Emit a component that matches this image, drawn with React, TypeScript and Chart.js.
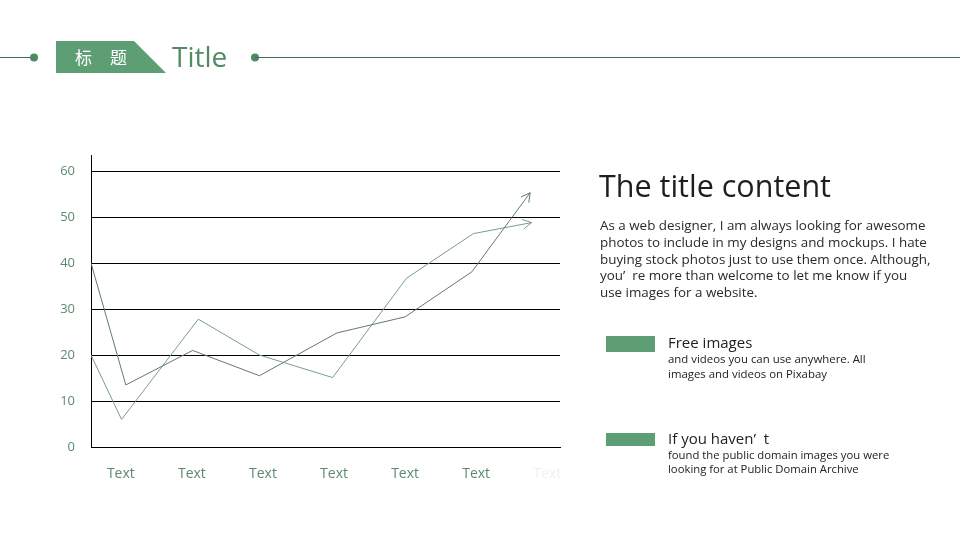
import React, { useEffect, useRef } from "react";
import { Chart, registerables } from "chart.js";

Chart.register(...registerables);

// ---- data ----
const xLabels = ["Text", "Text", "Text", "Text", "Text", "Text", "Text"];
const xTickValues = [0, 1, 2, 3, 4, 5, 6];
const xDark = [-0.42, 0.07, 1.01, 1.95, 3.04, 4.0, 4.94, 5.76];
const seriesDark = [40, 13.5, 21, 15.5, 24.8, 28.3, 38.1, 55.3];
const xLight = [-0.42, 0.01, 1.09, 1.95, 2.98, 4.02, 4.96, 5.78];
const seriesLight = [20, 6, 27.8, 20, 15.1, 36.7, 46.4, 48.8];
const yTickValues = [0, 10, 20, 30, 40, 50, 60];

const GREEN = "#5e9e74";
const TEXT_GREEN = "#5b8a6d";
const FONT = "'Open Sans', 'Noto Sans', sans-serif";

const arrowPlugin = {
  id: "arrowHeads",
  afterDatasetsDraw(chart: any) {
    const ctx = chart.ctx;
    chart.data.datasets.forEach((ds: any, i: number) => {
      const pts = chart.getDatasetMeta(i).data;
      const n = pts.length;
      if (n < 2) return;
      const a = pts[n - 2];
      const b = pts[n - 1];
      const ang = Math.atan2(b.y - a.y, b.x - a.x);
      const L = 10;
      const spread = 0.5;
      ctx.save();
      ctx.strokeStyle = ds.borderColor;
      ctx.lineWidth = 1;
      ctx.beginPath();
      ctx.moveTo(b.x - L * Math.cos(ang - spread), b.y - L * Math.sin(ang - spread));
      ctx.lineTo(b.x, b.y);
      ctx.lineTo(b.x - L * Math.cos(ang + spread), b.y - L * Math.sin(ang + spread));
      ctx.stroke();
      ctx.restore();
    });
  },
};

function ChartCanvas() {
  const ref = useRef<HTMLCanvasElement>(null);
  useEffect(() => {
    if (!ref.current) return;
    const chart = new Chart(ref.current, {
      type: "line",
      data: {
        datasets: [
          {
            label: "A",
            data: xDark.map((x, i) => ({ x, y: seriesDark[i] })),
            borderColor: "#617a6c",
            borderWidth: 1,
            pointRadius: 0,
            tension: 0,
            fill: false,
          },
          {
            label: "B",
            data: xLight.map((x, i) => ({ x, y: seriesLight[i] })),
            borderColor: "#7a9d88",
            borderWidth: 1,
            pointRadius: 0,
            tension: 0,
            fill: false,
          },
        ],
      },
      options: {
        animation: false,
        responsive: false,
        events: [],
        layout: { padding: { left: 30, top: 155, right: 400, bottom: 53 } },
        plugins: { legend: { display: false }, tooltip: { enabled: false } },
        scales: {
          x: {
            type: "linear",
            min: -0.42,
            max: 6.18,
            afterBuildTicks: (scale: any) => {
              scale.ticks = xTickValues.map((v) => ({ value: v }));
            },
            afterFit: (scale: any) => {
              scale.height = 40;
            },
            grid: { display: false, drawTicks: false },
            border: { display: true, color: "#000000", width: 1 },
            ticks: {
              padding: 19,
              autoSkip: false,
              maxRotation: 0,
              font: { family: FONT, size: 14 },
              color: (c: any) => (c.index === 6 ? "#eef2ef" : TEXT_GREEN),
              callback: (v: any) => xLabels[Math.round(Number(v))] ?? "",
            },
          },
          y: {
            type: "linear",
            min: 0,
            max: 63.5,
            afterBuildTicks: (scale: any) => {
              scale.ticks = yTickValues.map((v) => ({ value: v }));
            },
            afterFit: (scale: any) => {
              scale.width = 61;
            },
            grid: { display: true, color: "#000000", lineWidth: 1, drawTicks: false },
            border: { display: true, color: "#000000", width: 1 },
            ticks: {
              padding: 16,
              font: { family: FONT, size: 13 },
              color: TEXT_GREEN,
              callback: (v: any) => String(v),
            },
          },
        },
      },
      plugins: [arrowPlugin],
    } as any);
    return () => chart.destroy();
  }, []);
  return (
    <canvas
      ref={ref}
      width={960}
      height={540}
      style={{ position: "absolute", left: 0, top: 0, width: 960, height: 540 }}
    />
  );
}

const paragraph = [
  "As a web designer, I am always looking for awesome",
  "photos to include in my designs and mockups. I hate",
  "buying stock photos just to use them once. Although,",
  "you\u2019  re more than welcome to let me know if you",
  "use images for a website.",
];

export default function App() {
  return (
    <div
      style={{
        position: "fixed",
        left: 0,
        top: 0,
        width: 960,
        height: 540,
        background: "#ffffff",
        overflow: "hidden",
        fontFamily: FONT,
      }}
    >
      <svg width={960} height={540} style={{ position: "absolute", left: 0, top: 0 }}>
        <line x1={0} y1={57.5} x2={34} y2={57.5} stroke="#3f6f52" strokeWidth={1} />
        <circle cx={34} cy={57.5} r={4} fill="#4e8a63" />
        <polygon points="56,41 134,41 166,73 56,73" fill={GREEN} />
        <circle cx={255} cy={57.5} r={4} fill="#4e8a63" />
        <line x1={255} y1={57.5} x2={960} y2={57.5} stroke="#3f6f52" strokeWidth={1} />
        <rect x={606} y={336} width={49} height={16} fill={GREEN} />
        <rect x={606} y={433} width={49} height={13} fill={GREEN} />
      </svg>
      <ChartCanvas />
      <div
        style={{
          position: "absolute",
          left: 75,
          top: 46,
          fontFamily: "'Noto Sans CJK SC', sans-serif",
          fontSize: 17,
          lineHeight: "22px",
          color: "#ffffff",
        }}
      >
        <span style={{ position: "absolute", left: 0, top: 0 }}>标</span>
        <span style={{ position: "absolute", left: 35, top: 0 }}>题</span>
      </div>
      <div
        style={{
          position: "absolute",
          left: 172,
          top: 37,
          fontSize: 28,
          lineHeight: "38px",
          color: "#4f8c63",
        }}
      >
        Title
      </div>
      <div
        style={{
          position: "absolute",
          left: 599,
          top: 164,
          fontSize: 30.5,
          lineHeight: "42px",
          color: "#1e1e1e",
        }}
      >
        The title content
      </div>
      <div
        style={{
          position: "absolute",
          left: 600,
          top: 217,
          fontSize: 13.4,
          lineHeight: "16.8px",
          color: "#2a2a2a",
          whiteSpace: "pre",
        }}
      >
        {paragraph.map((l, i) => (
          <div key={i}>{l}</div>
        ))}
      </div>
      <div style={{ position: "absolute", left: 668, top: 332, fontSize: 15, lineHeight: "20px", color: "#222" }}>
        Free images
      </div>
      <div
        style={{
          position: "absolute",
          left: 668,
          top: 351,
          fontSize: 11.4,
          lineHeight: "15px",
          color: "#222",
          whiteSpace: "pre",
        }}
      >
        <div>and videos you can use anywhere. All</div>
        <div>images and videos on Pixabay</div>
      </div>
      <div
        style={{
          position: "absolute",
          left: 668,
          top: 428,
          fontSize: 15,
          lineHeight: "20px",
          color: "#222",
          whiteSpace: "pre",
        }}
      >
        {"If you haven\u2019  t"}
      </div>
      <div
        style={{
          position: "absolute",
          left: 668,
          top: 448,
          fontSize: 11.3,
          lineHeight: "14px",
          color: "#222",
          whiteSpace: "pre",
        }}
      >
        <div>found the public domain images you were</div>
        <div>looking for at Public Domain Archive</div>
      </div>
    </div>
  );
}
